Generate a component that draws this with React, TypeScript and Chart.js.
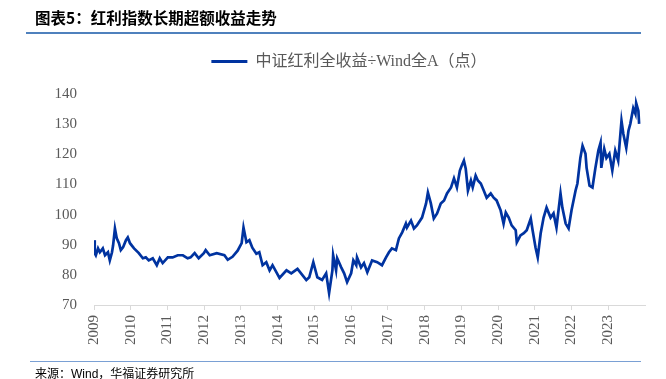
import React, { useEffect, useRef } from 'react';
import { Chart, registerables } from 'chart.js';

Chart.register(...registerables);

const TITLE = '图表5：红利指数长期超额收益走势';
const SERIES_LABEL = '中证红利全收益÷Wind全A（点）';
const SOURCE = '来源：Wind，华福证券研究所';

const yearTicks = [2009, 2010, 2011, 2012, 2013, 2014, 2015, 2016, 2017, 2018, 2019, 2020, 2021, 2022, 2023];
const valueTicks = [70, 80, 90, 100, 110, 120, 130, 140];

// dates as decimal years
const dates = [
  2009.00, 2009.02, 2009.05, 2009.11, 2009.16, 2009.24, 2009.30, 2009.38, 2009.43, 2009.49, 2009.52, 2009.57, 2009.62, 2009.68, 2009.73, 2009.79, 2009.87, 2009.92, 2009.98,
  2010.09, 2010.22, 2010.33, 2010.41, 2010.49, 2010.60, 2010.71, 2010.79, 2010.87,
  2011.01, 2011.14, 2011.28, 2011.42, 2011.55, 2011.63, 2011.74, 2011.85, 2011.99,
  2012.04, 2012.15, 2012.34, 2012.55, 2012.64, 2012.77, 2012.91,
  2013.02, 2013.07, 2013.15, 2013.23, 2013.31, 2013.42, 2013.50, 2013.59, 2013.69, 2013.78, 2013.86,
  2014.05, 2014.24, 2014.37, 2014.54, 2014.78, 2014.86, 2014.97,
  2015.08, 2015.21, 2015.32, 2015.40, 2015.49, 2015.51, 2015.59, 2015.62, 2015.73, 2015.81, 2015.89,
  2016.00, 2016.06, 2016.14, 2016.16, 2016.27, 2016.35, 2016.44, 2016.57, 2016.71, 2016.84, 2016.95,
  2017.03, 2017.11, 2017.22, 2017.30, 2017.39, 2017.49, 2017.52, 2017.63, 2017.71, 2017.79, 2017.93,
  2018.04, 2018.09, 2018.17, 2018.25, 2018.34, 2018.44, 2018.53, 2018.61, 2018.72, 2018.80, 2018.88, 2018.96,
  2019.01, 2019.07, 2019.12, 2019.18, 2019.26, 2019.31, 2019.39, 2019.45, 2019.53, 2019.61, 2019.69, 2019.80, 2019.88, 2019.96,
  2020.07, 2020.15, 2020.21, 2020.29, 2020.37, 2020.48, 2020.51, 2020.61, 2020.70, 2020.78, 2020.89, 2020.94,
  2021.02, 2021.08, 2021.16, 2021.24, 2021.32, 2021.43, 2021.51, 2021.59, 2021.70, 2021.75, 2021.84, 2021.92,
  2022.00, 2022.11, 2022.16, 2022.24, 2022.30, 2022.38, 2022.41, 2022.49, 2022.57, 2022.65, 2022.73, 2022.79, 2022.81, 2022.89, 2022.95,
  2023.03, 2023.11, 2023.19, 2023.27, 2023.36, 2023.41, 2023.49, 2023.55, 2023.60, 2023.68, 2023.74, 2023.76, 2023.82, 2023.84,
];

const ratio = [
  91.5, 87.2, 86.5, 88.8, 87.5, 88.8, 86.5, 87.5, 84.8, 87.5, 89.8, 95.4, 92.1, 90.5, 88.2, 89.1, 91.5, 92.4, 90.5,
  88.8, 87.2, 85.5, 85.8, 84.8, 85.5, 83.2, 85.5, 83.9,
  85.8, 85.8, 86.5, 86.5, 85.5, 85.8, 87.2, 85.5, 87.2,
  88.2, 86.5, 87.2, 86.5, 85.0, 86.0, 88.0,
  90.5, 95.7, 90.8, 91.5, 89.0, 87.0, 87.5, 83.2, 84.2, 81.5, 83.2,
  79.0, 81.5, 80.5, 82.0, 78.3, 79.2, 84.2,
  79.2, 78.3, 80.5, 74.0, 81.5, 86.5, 81.5, 85.5, 82.5, 80.5, 77.6,
  80.5, 84.8, 83.2, 85.8, 82.5, 83.9, 80.9, 84.8, 84.2, 83.2, 85.8,
  87.5, 88.8, 88.2, 92.1, 94.1, 97.0, 95.7, 98.0, 95.4, 96.4, 99.0,
  103.7, 107.3, 103.7, 98.7, 100.4, 103.7, 104.7, 107.0, 109.0, 112.0, 109.0, 114.6,
  116.2, 117.9, 115.2, 108.0, 111.3, 109.0, 112.9, 111.3, 110.3, 108.0, 105.6, 107.0, 105.6, 104.7,
  101.4, 97.0, 100.7, 99.0, 96.4, 94.8, 90.8, 93.1, 93.8, 94.8, 98.7, 94.8,
  89.1, 85.8, 93.8, 99.0, 102.3, 99.0, 100.4, 95.7, 107.0, 102.3, 97.0, 95.4,
  101.4, 108.0, 110.3, 118.8, 122.8, 120.2, 115.5, 109.6, 109.0, 115.5, 121.2, 123.8, 115.5, 121.8, 118.8,
  120.2, 114.6, 121.2, 117.9, 131.1, 126.8, 122.1, 127.8, 130.1, 135.3, 133.4, 137.0, 134.4, 130.1,
];

const LINE_COLOR = '#0033a0';
const TEXT_GRAY = '#595959';
const AXIS_GRAY = '#d9d9d9';
const RULE_BLUE = '#4f81bd';
const SERIF = '"Liberation Serif", "Noto Sans CJK SC", serif';

export default function App() {
  const ref = useRef<HTMLCanvasElement>(null);

  useEffect(() => {
    if (!ref.current) return;
    const legendGap = {
      id: 'legendGap',
      beforeInit(chart: any) {
        const lg = chart.legend;
        if (!lg) return;
        const fit = lg.fit;
        lg.fit = function () {
          fit.call(this);
          this.height += 14.5;
        };
      },
    };
    const chart = new Chart(ref.current, {
      type: 'line',
      data: {
        datasets: [
          {
            label: SERIES_LABEL,
            data: dates.map((d, i) => ({ x: d, y: ratio[i] })),
            borderColor: LINE_COLOR,
            backgroundColor: LINE_COLOR,
            borderWidth: 2.7,
            pointRadius: 0,
            tension: 0,
            fill: false,
          },
        ],
      },
      options: {
        animation: false,
        responsive: false,
        maintainAspectRatio: false,
        layout: { padding: { top: 40, left: 53, right: 21, bottom: 24 } },
        plugins: {
          tooltip: { enabled: false },
          legend: {
            display: true,
            position: 'top',
            labels: {
              boxWidth: 36,
              boxHeight: 3,
              padding: 13.5,
              color: TEXT_GRAY,
              font: { family: SERIF, size: 16 },
              generateLabels: (c: any) =>
                (Chart.defaults.plugins.legend.labels.generateLabels as any)(c).map((l: any) => ({
                  ...l,
                  lineWidth: 0,
                  fillStyle: LINE_COLOR,
                })),
            },
          },
        },
        scales: {
          x: {
            type: 'linear',
            min: 2009,
            max: 2024,
            afterBuildTicks: (axis: any) => {
              axis.ticks = yearTicks.map((v) => ({ value: v }));
            },
            afterFit: (s: any) => {
              s.height = 50;
            },
            ticks: {
              autoSkip: false,
              minRotation: 90,
              maxRotation: 90,
              padding: 5,
              color: TEXT_GRAY,
              font: { family: SERIF, size: 15 },
              callback: (v: any) => String(v),
            },
            grid: { display: true, drawOnChartArea: false, drawTicks: true, tickLength: 5, color: AXIS_GRAY },
            border: { display: true, color: AXIS_GRAY },
          },
          y: {
            min: 70,
            max: 140,
            afterBuildTicks: (axis: any) => {
              axis.ticks = valueTicks.map((v) => ({ value: v }));
            },
            afterFit: (s: any) => {
              s.width = 41;
            },
            ticks: {
              padding: 17,
              color: TEXT_GRAY,
              font: { family: SERIF, size: 15 },
            },
            grid: { display: false, drawTicks: false },
            border: { display: false },
          },
        },
      },
      plugins: [legendGap],
    } as any);
    return () => chart.destroy();
  }, []);

  return (
    <div style={{ position: 'absolute', left: 0, top: 0, width: 666, height: 379, background: '#fff', overflow: 'hidden' }}>
      <canvas ref={ref} width={666} height={379} style={{ position: 'absolute', left: 0, top: 0, width: 666, height: 379, display: 'block' }} />
      <div
        style={{
          position: 'absolute',
          left: 35,
          top: 6,
          fontFamily: '"Noto Sans CJK SC", sans-serif',
          fontWeight: 700,
          fontSize: 15.5,
          lineHeight: '22px',
          color: '#000',
          whiteSpace: 'nowrap',
        }}
      >
        {TITLE}
      </div>
      <div style={{ position: 'absolute', left: 26, top: 32, width: 615, height: 1.5, background: RULE_BLUE }} />
      <div style={{ position: 'absolute', left: 30, top: 361, width: 611, height: 1.2, background: '#7aa0d4' }} />
      <div
        style={{
          position: 'absolute',
          left: 35,
          top: 366,
          fontFamily: '"Liberation Sans", "Noto Sans CJK SC", sans-serif',
          fontSize: 12,
          lineHeight: '16px',
          color: '#000',
          whiteSpace: 'nowrap',
        }}
      >
        {SOURCE}
      </div>
    </div>
  );
}
